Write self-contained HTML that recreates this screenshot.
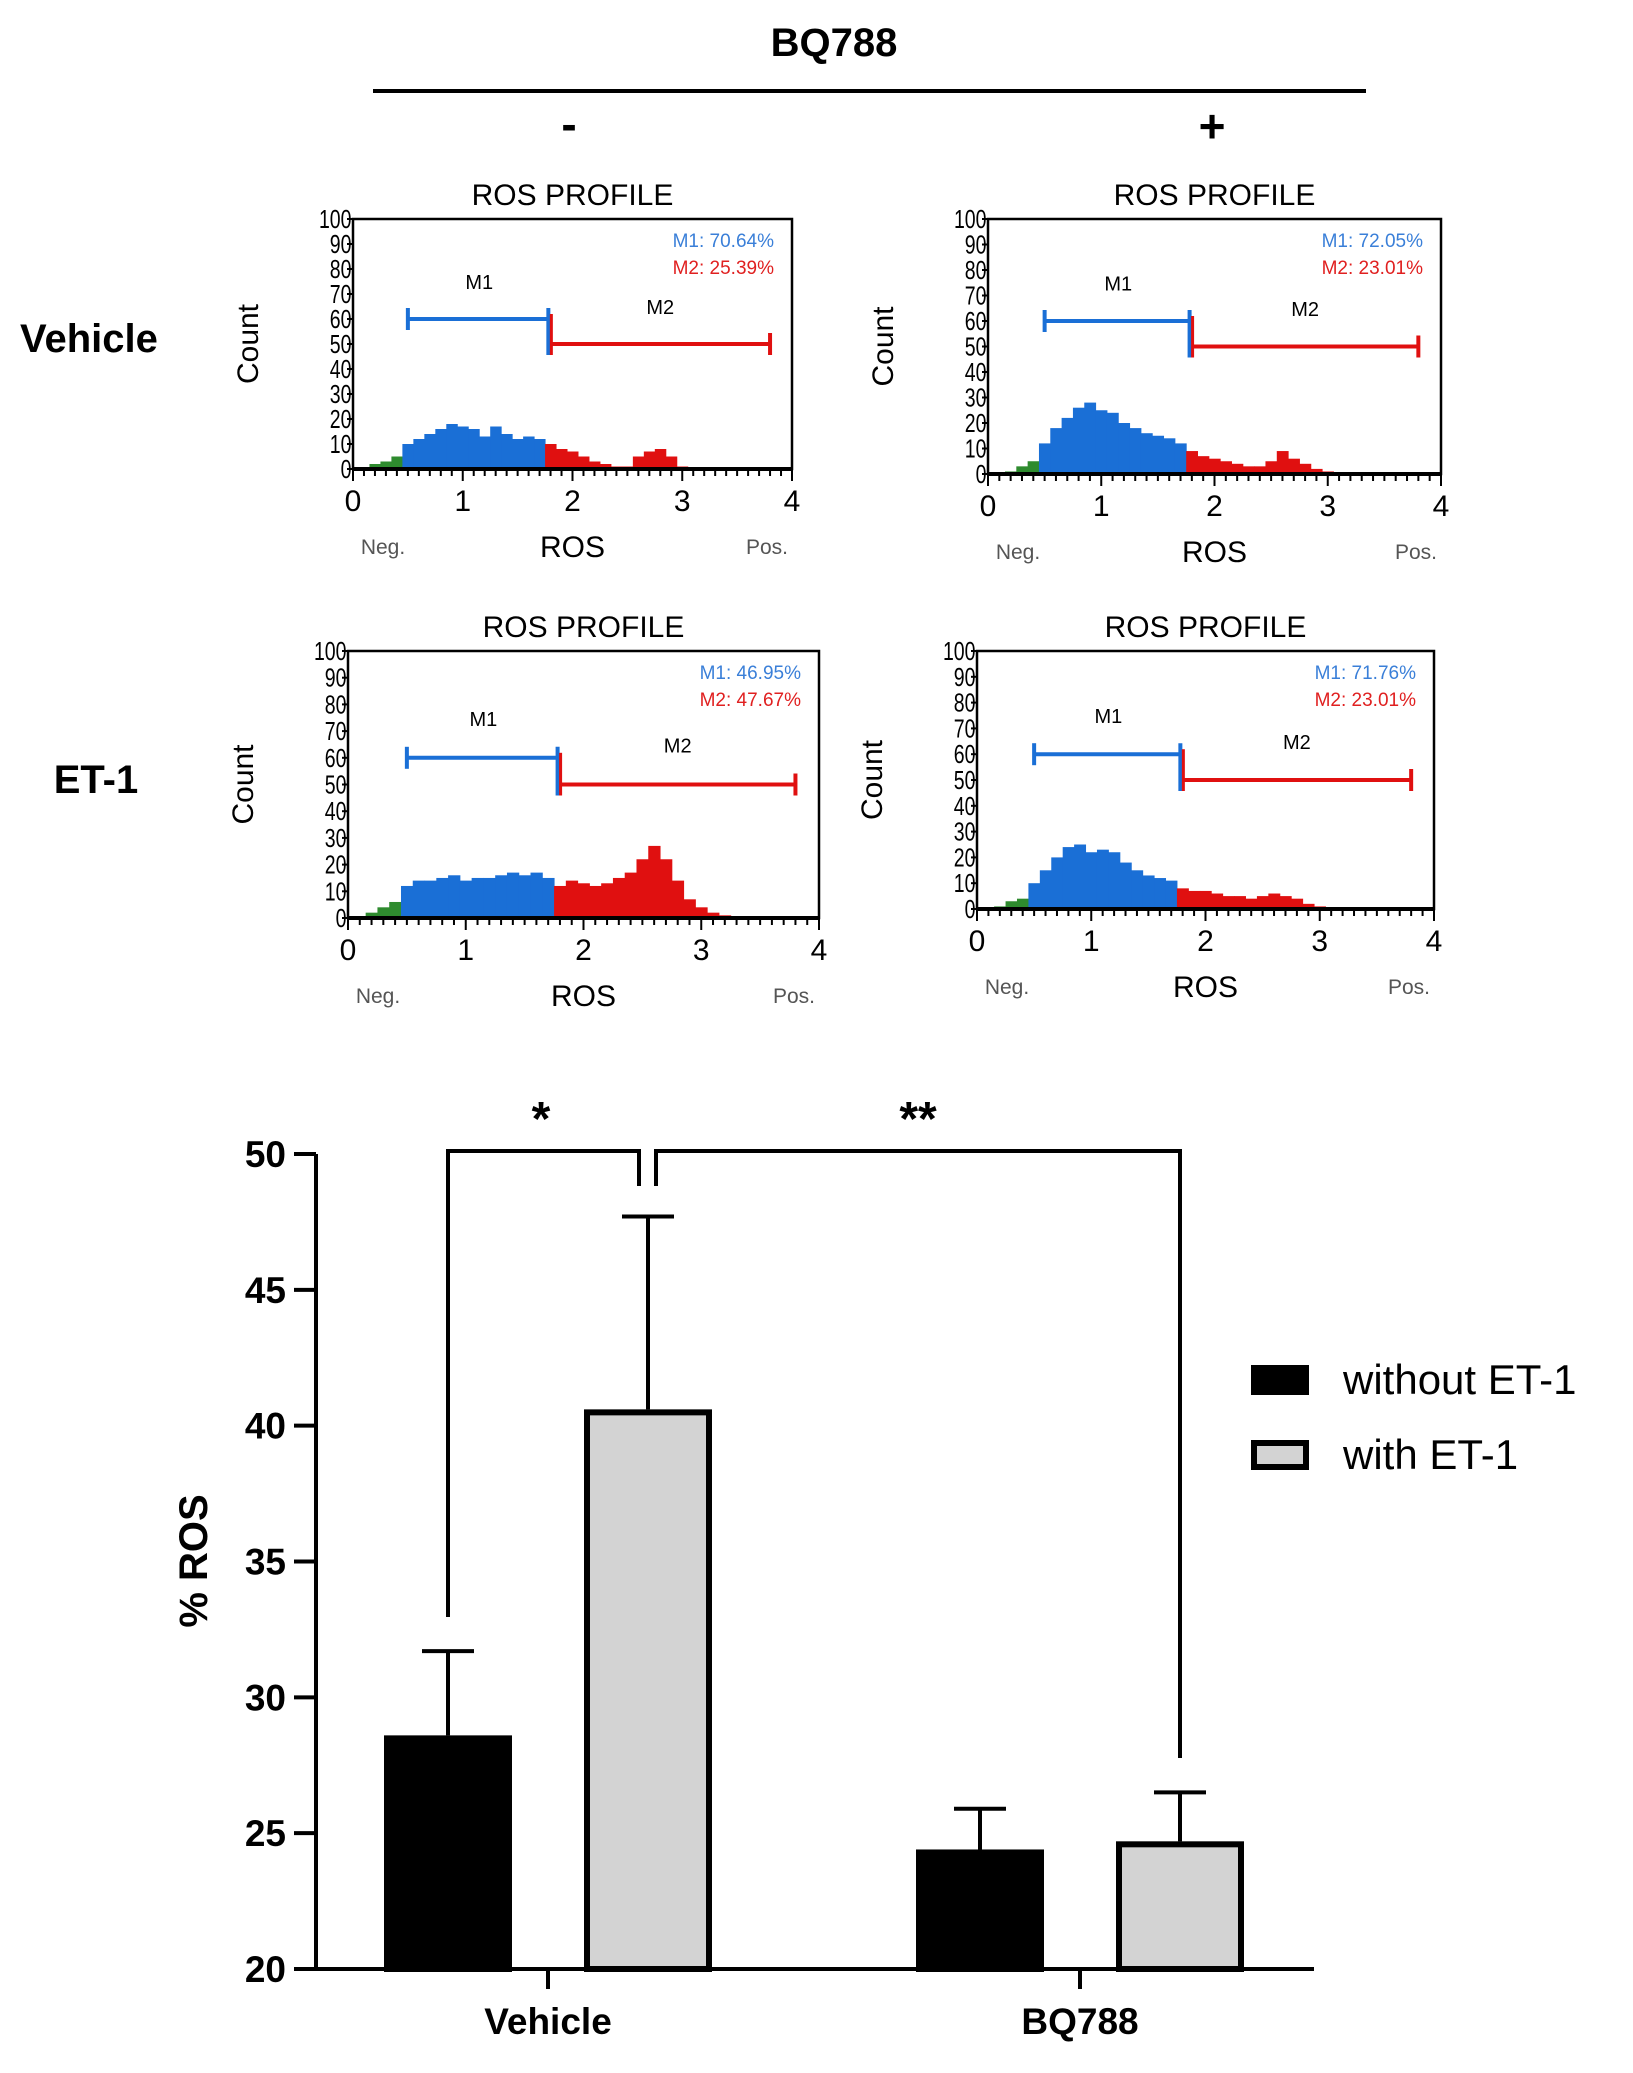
<!DOCTYPE html>
<html><head><meta charset="utf-8"><style>
body{margin:0;background:#fff;width:1633px;height:2073px;overflow:hidden;font-family:"Liberation Sans",Arial,sans-serif}
svg{position:absolute;left:0;top:0}
</style></head><body>
<svg id="fig" width="1633" height="2073" font-family="Liberation Sans, Arial, sans-serif">
<text x="834" y="56" font-size="40" font-weight="bold" text-anchor="middle">BQ788</text>
<line x1="373" y1="91" x2="1366" y2="91" stroke="#000" stroke-width="4"/>
<text x="569" y="140" font-size="46" font-weight="bold" text-anchor="middle">-</text>
<text x="1212" y="142" font-size="46" font-weight="bold" text-anchor="middle">+</text>
<text x="20" y="352" font-size="40" font-weight="bold">Vehicle</text>
<text x="96" y="793" font-size="40" font-weight="bold" text-anchor="middle">ET-1</text>
<g id="hists"></g>
<g id="bars"></g>
</svg>
<script>
// ---------- histogram data ----------
const histX = [0.1,0.2,0.3,0.4,0.5,0.6,0.7,0.8,0.9,1.0,1.1,1.2,1.3,1.4,1.5,1.6,1.7,1.8,1.9,2.0,2.1,2.2,2.3,2.4,2.5,2.6,2.7,2.8,2.9,3.0,3.1,3.2];
const histP1 = [0,2,3,5,10,12,14,16,18,17,16,13,17,14,12,13,12,10,8,7,5,3,2,1,1,5,7,8,5,1,0,0];
const histP2 = [0,1,3,5,12,18,22,26,28,25,24,20,18,16,15,14,12,9,7,6,5,4,3,3,5,9,6,4,2,1,0,0];
const histP3 = [0,2,4,6,12,14,14,15,16,14,15,15,16,17,16,17,15,12,14,13,12,13,15,17,22,27,22,14,7,4,2,1];
const histP4 = [0,1,3,4,10,15,20,24,25,22,23,22,18,15,13,12,11,8,7,7,6,5,5,4,5,6,5,4,2,1,0,0];
const histPcts = [["M1: 70.64%","M2: 25.39%"],["M1: 72.05%","M2: 23.01%"],["M1: 46.95%","M2: 47.67%"],["M1: 71.76%","M2: 23.01%"]];
const histYTicks = [0,10,20,30,40,50,60,70,80,90,100];
const histXTicks = [0,1,2,3,4];
const panels = [
 {x0:353,x1:792,y0:219,y1:469,data:histP1},
 {x0:988,x1:1441,y0:219,y1:474,data:histP2},
 {x0:348,x1:819,y0:651,y1:918,data:histP3},
 {x0:977,x1:1434,y0:651,y1:909,data:histP4}];
const NS="http://www.w3.org/2000/svg";
function mk(tag,attrs,parent,txt){const e=document.createElementNS(NS,tag);for(const k in attrs)e.setAttribute(k,attrs[k]);if(txt!==undefined)e.textContent=txt;parent.appendChild(e);return e;}
const H=document.getElementById('hists');
panels.forEach((p,i)=>{
  const g=mk('g',{},H);
  
  
  const sx=v=>p.x0+(v/4)*(p.x1-p.x0), sy=v=>p.y1-(v/100)*(p.y1-p.y0);
  const bw=(p.x1-p.x0)/40;
  p.data.forEach((c,j)=>{
    const xv=histX[j]; if(c<=0)return;
    const col=xv<0.5?'#2e8b2e':(xv<1.8?'#1a6fd6':'#e01010');
    const r=mk('rect',{x:sx(xv)-bw/2,y:sy(c),width:bw+0.5,height:sy(0)-sy(c),fill:col},g);
    
    
  });
  const box=mk('rect',{x:p.x0,y:p.y0,width:p.x1-p.x0,height:p.y1-p.y0,fill:'none',stroke:'#000','stroke-width':2.5},g);
  
  
  mk('line',{x1:p.x0,y1:p.y1,x2:p.x1,y2:p.y1,stroke:'#000','stroke-width':4},g);
  histYTicks.forEach(t=>{
    mk('line',{x1:p.x0-6,x2:p.x0,y1:sy(t),y2:sy(t),stroke:'#000','stroke-width':2},g);
    const l=mk('text',{x:p.x0-2,y:sy(t)+9,'font-size':26,'text-anchor':'end',transform:`translate(${p.x0},0) scale(0.75,1) translate(${-p.x0},0)`},g,String(t));
    
    
  });
  for(let k=0;k<=40;k++){const xx=p.x0+k*(p.x1-p.x0)/40;mk('line',{x1:xx,x2:xx,y1:p.y1,y2:p.y1+(k%10==0?12:7),stroke:'#000','stroke-width':2},g);}
  histXTicks.forEach(t=>{
    const l=mk('text',{x:sx(t),y:p.y1+42,'font-size':30,'text-anchor':'middle'},g,String(t));
    
    
  });
  const cx=(p.x0+p.x1)/2;
  const tt=mk('text',{x:cx,y:p.y0-14,'font-size':30,'text-anchor':'middle'},g,'ROS PROFILE');
  
  
  const xl=mk('text',{x:cx,y:p.y1+88,'font-size':30,'text-anchor':'middle'},g,'ROS');
  
  
  const ng=mk('text',{x:p.x0+30,y:p.y1+85,'font-size':21,fill:'#555','text-anchor':'middle'},g,'Neg.');
  
  
  const ps=mk('text',{x:p.x1-25,y:p.y1+85,'font-size':21,fill:'#555','text-anchor':'middle'},g,'Pos.');
  
  
  const yl=mk('text',{x:0,y:0,'font-size':30,'text-anchor':'middle',transform:`translate(${p.x0-95},${(p.y0+p.y1)/2}) rotate(-90)`},g,'Count');
  
  
  // markers
  const m1y=sy(60),m2y=sy(50),a=sx(0.5),b=sx(1.78),c=sx(3.8);
  mk('line',{x1:a,x2:b,y1:m1y,y2:m1y,stroke:'#1a6fd6','stroke-width':4},g);
  mk('line',{x1:a,x2:a,y1:m1y-11,y2:m1y+11,stroke:'#1a6fd6','stroke-width':4},g);
  mk('line',{x1:b,x2:b,y1:m1y-11,y2:m2y+11,stroke:'#1a6fd6','stroke-width':4},g);
  mk('line',{x1:b+3,x2:c,y1:m2y,y2:m2y,stroke:'#e01010','stroke-width':4},g);
  mk('line',{x1:b+3,x2:b+3,y1:m1y-5,y2:m2y+11,stroke:'#e01010','stroke-width':3},g);
  mk('line',{x1:c,x2:c,y1:m2y-11,y2:m2y+11,stroke:'#e01010','stroke-width':4},g);
  const ml1=mk('text',{x:sx(1.15),y:sy(72),'font-size':20,'text-anchor':'middle'},g,'M1');
  
  
  const ml2=mk('text',{x:sx(2.8),y:sy(62),'font-size':20,'text-anchor':'middle'},g,'M2');
  
  
  const pc1=mk('text',{x:p.x1-18,y:p.y0+28,'font-size':19,fill:'#3a7fd8','text-anchor':'end'},g,histPcts[i][0]);
  
  
  const pc2=mk('text',{x:p.x1-18,y:p.y0+55,'font-size':19,fill:'#e02020','text-anchor':'end'},g,histPcts[i][1]);
  
  
});

// ---------- bar chart data ----------
const categories = ["Vehicle","BQ788"];
const withoutVals = [28.6, 24.4];
const withVals = [40.6, 24.7];
const withoutErr = [3.1, 1.5];
const withErr = [7.1, 1.8];
const yTicks = [20,25,30,35,40,45,50];
const B=document.getElementById('bars');
const ax={x0:316,x1:1314,yTop:1154,yBot:1969,vMin:20,vMax:50};
const Y=v=>ax.yBot-(v-ax.vMin)/(ax.vMax-ax.vMin)*(ax.yBot-ax.yTop);
const catX=[548,1080];
const barW=128, off=100;
categories.forEach((c,i)=>{
  [[withoutVals[i],withoutErr[i],'#000',-off,'bar-without-et1-'],[withVals[i],withErr[i],'#d3d3d3',off,'bar-with-et1-']].forEach(([v,e,f,o,nm])=>{
    const cx=catX[i]+o;
    const eb=mk('path',{d:`M${cx} ${Y(v)} V${Y(v+e)} M${cx-26} ${Y(v+e)} H${cx+26}`,stroke:'#000','stroke-width':4,fill:'none'},B);
    
    
    const r=mk('rect',{x:cx-barW/2+3,y:Y(v)+3,width:barW-6,height:Y(ax.vMin)-Y(v)-3,fill:f,stroke:'#000','stroke-width':6},B);
    
    
  });
  mk('line',{x1:catX[i],x2:catX[i],y1:ax.yBot,y2:ax.yBot+20,stroke:'#000','stroke-width':4},B);
  const l=mk('text',{x:catX[i],y:2034,'font-size':37,'font-weight':'bold','text-anchor':'middle'},B,c);
  
  
});
mk('line',{x1:ax.x0,x2:ax.x0,y1:ax.yTop,y2:ax.yBot+2,stroke:'#000','stroke-width':4},B);
mk('line',{x1:ax.x0,x2:ax.x1,y1:ax.yBot,y2:ax.yBot,stroke:'#000','stroke-width':4},B);
yTicks.forEach(t=>{
  mk('line',{x1:ax.x0-22,x2:ax.x0,y1:Y(t),y2:Y(t),stroke:'#000','stroke-width':4},B);
  const l=mk('text',{x:ax.x0-30,y:Y(t)+13,'font-size':37,'font-weight':'bold','text-anchor':'end'},B,String(t));
  
  
});
const yt=mk('text',{x:0,y:0,'font-size':40,'font-weight':'bold','text-anchor':'middle',transform:'translate(207,1561) rotate(-90)'},B,'% ROS');


const br1=mk('path',{d:'M448 1617 V1151 H639 V1186',stroke:'#000','stroke-width':4,fill:'none'},B);


const br2=mk('path',{d:'M656 1186 V1151 H1180 V1758',stroke:'#000','stroke-width':4,fill:'none'},B);


const s1=mk('text',{x:541,y:1135,'font-size':48,'font-weight':'bold','text-anchor':'middle'},B,'*');


const s2=mk('text',{x:918,y:1135,'font-size':48,'font-weight':'bold','text-anchor':'middle'},B,'**');


[['without ET-1','#000',1380],['with ET-1','#d3d3d3',1455]].forEach(([t,f,y],k)=>{
  const r=mk('rect',{x:1254,y:y-12,width:52,height:24,fill:f,stroke:'#000','stroke-width':6},B);
  
  
  const l=mk('text',{x:1343,y:y+14,'font-size':42},B,t);
  
  
});
</script>
</body></html>
